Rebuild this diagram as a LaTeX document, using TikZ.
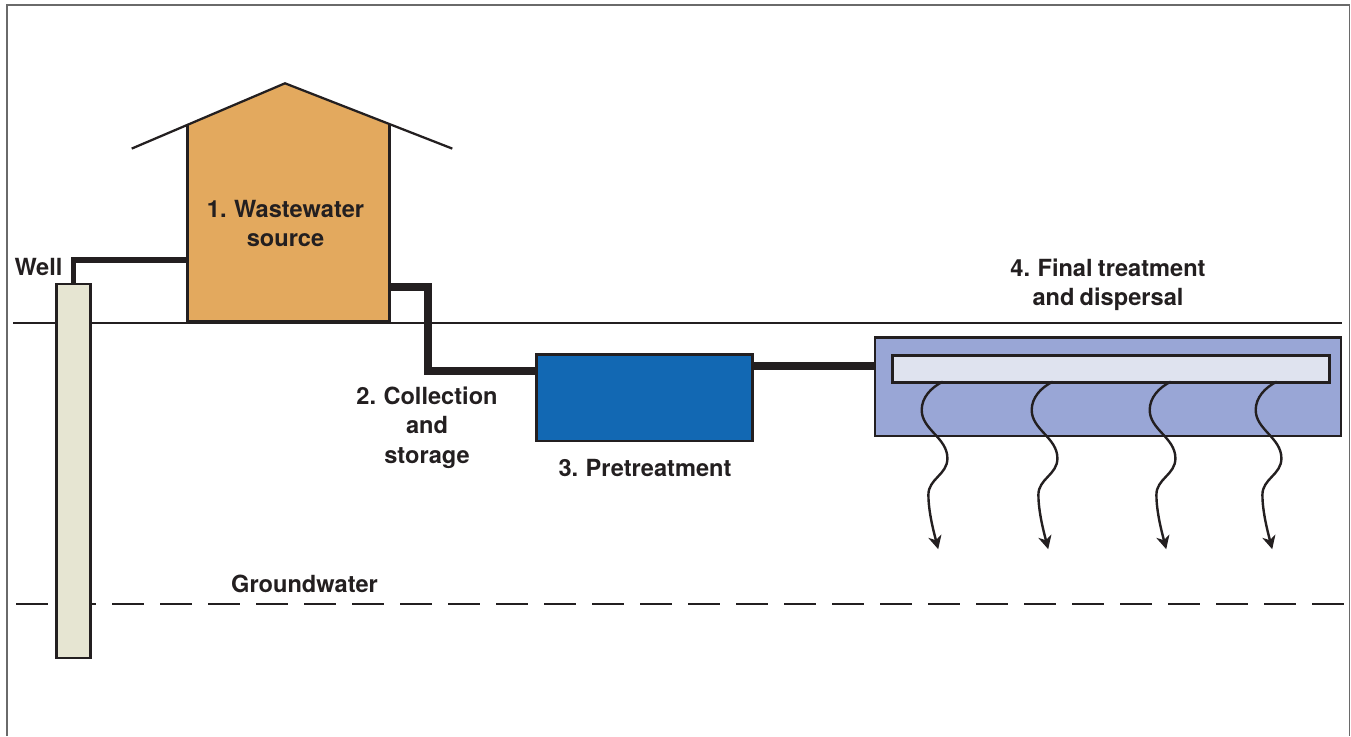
\documentclass[tikz,border=0pt]{standalone}
\usepackage{fontspec}
\setmainfont{TeX Gyre Heros}[WordSpace=0.8]
\usetikzlibrary{arrows.meta}
\definecolor{ink}{HTML}{231F20}
\definecolor{framegray}{HTML}{6A6A6A}
\definecolor{housefill}{HTML}{E3A95E}
\definecolor{wellfill}{HTML}{E6E5D2}
\definecolor{tankfill}{HTML}{1268B3}
\definecolor{bedfill}{HTML}{99A6D6}
\definecolor{drainfill}{HTML}{DFE3EF}
\tikzset{
  tankbox/.style={draw=ink,line width=2.1pt,rectangle,inner sep=0pt,outer sep=0pt},
  label/.style={text=ink,font=\bfseries\fontsize{17.7}{22}\selectfont,align=center,inner sep=0pt},
  thinline/.style={draw=ink,line width=1.5pt},
  wellpipe/.style={draw=ink,line width=4.2pt,line join=miter},
  mainpipe/.style={draw=ink,line width=6pt,line join=miter},
  seep/.style={draw=ink,line width=1.8pt,-{Stealth[length=10pt,width=10pt,inset=3pt]}},
}
\begin{document}
\begin{tikzpicture}[x=0.75pt,y=-0.75pt]
\useasboundingbox (0,0) rectangle (1351,736);
% frame
\draw[framegray,line width=1pt] (7,736) -- (7,5) -- (1349.5,5) -- (1349.5,736);
% ground line and water table
\draw[thinline] (13,322.5) -- (1342,322.5);
\draw[draw=ink,line width=1.7pt,dash pattern=on 24pt off 12pt] (16,604) -- (1344,604);
% house
\path[fill=housefill] (187.3,125.4) -- (285,83.3) -- (389.3,125) -- (389.3,321) -- (187.3,321) -- cycle;
\draw[draw=ink,line width=1.7pt] (131.7,148.6) -- (285,83.3) -- (452.3,148.6);
\draw[draw=ink,line width=2pt] (187.3,125.4) -- (187.3,321) -- (389.3,321) -- (389.3,125);
\node[rectangle,minimum width=151.5pt,minimum height=146pt,inner sep=0pt,outer sep=0pt] (house) at (288.3,223) {};
% boxes
\node[tankbox,fill=wellfill,minimum width=25.5pt,minimum height=280.5pt] (well) at (73.5,471) {};
\node[tankbox,fill=tankfill,minimum width=162pt,minimum height=65pt] (tank) at (644.5,397.7) {};
\node[tankbox,fill=bedfill,minimum width=349.5pt,minimum height=74pt] (bed) at (1108,386.7) {};
\node[tankbox,fill=drainfill,minimum width=327.7pt,minimum height=20pt] (drain) at (1111,369) {};
\coordinate (wellbend) at (187.3,260);
\coordinate (collectout) at (389.3,287);
\coordinate (collectbend) at (427.5,371);
\draw[wellpipe] (well.north) |- (wellbend);
\draw[mainpipe] (collectout) -| (collectbend) -- (tank.west |- collectbend);
\draw[mainpipe] (tank.east |- 0,366) -- (bed.west |- 0,366);
% seepage arrows
\foreach \n/\sx in {a/942.7,b/1052.7,c/1170.7,d/1276.7}{
  \coordinate (s\n) at (\sx,381.7);
  \draw[seep,shift={(s\n)}] (0,0) .. controls (-12,6) and (-21,16) .. (-21,28.3)
    .. controls (-21,48) and (4.7,56) .. (4.7,76.7)
    .. controls (4.7,93) and (-14.3,97) .. (-14.3,113)
    .. controls (-14.3,130) and (-9,150) .. (-4.5,167.5);
}
% labels
\node[label] (lwell) at (38.5,266.5) {Well};
\node[label] (lhouse) at (285.5,223.5) {1. Wastewater\\source};
\node[label] (lcoll) at (427,427.5) {2. Collection\\and\\storage};
\node[label] (ltank) at (645,467.5) {3. Pretreatment};
\node[label] (lbed) at (1108,284.5) {4. Final treatment\\and dispersal};
\node[label] (lgw) at (304.5,584) {Groundwater};
\end{tikzpicture}
\end{document}
